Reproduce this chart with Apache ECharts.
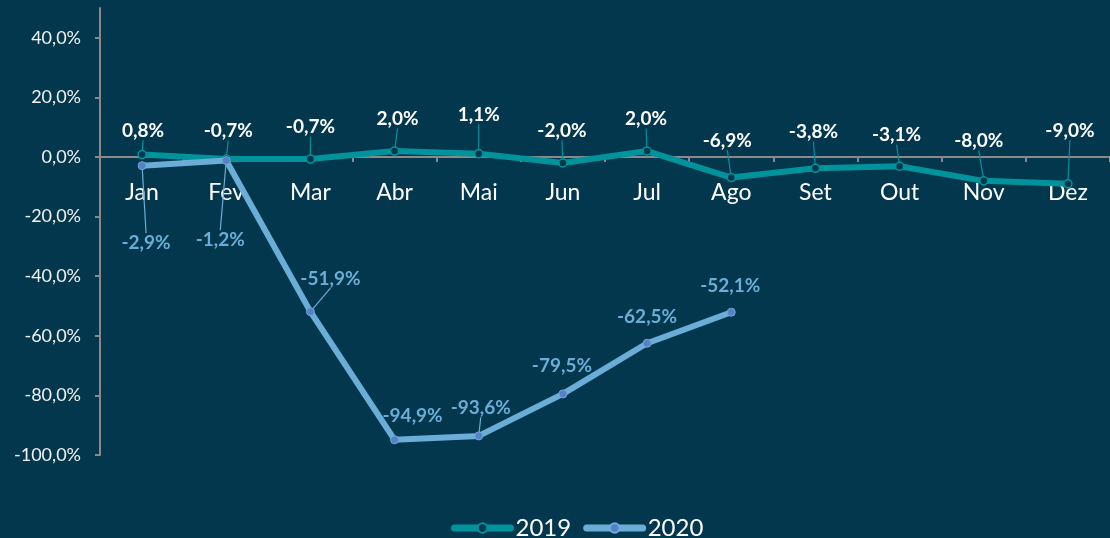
<!DOCTYPE html>
<html>
<head>
<meta charset="utf-8">
<script src="https://cdn.jsdelivr.net/npm/echarts@6/dist/echarts.min.js"></script>
<style>
  html, body { margin: 0; padding: 0; background: #03374e; }
  #chart { width: 1110px; height: 538px; }
</style>
</head>
<body>
<div id="chart"></div>
<script>
var months = ['Jan', 'Fev', 'Mar', 'Abr', 'Mai', 'Jun', 'Jul', 'Ago', 'Set', 'Out', 'Nov', 'Dez'];
var values2019 = [0.8, -0.7, -0.7, 2.0, 1.1, -2.0, 2.0, -6.9, -3.8, -3.1, -8.0, -9.0];
var values2020 = [-2.9, -1.2, -51.9, -94.9, -93.6, -79.5, -62.5, -52.1];
var yTicks = [-100, -80, -60, -40, -20, 0, 20, 40];

// label offsets (px) from each point
var shift2019 = [[1, -24], [2, -28], [0, -32], [3, -32], [0, -39], [-1, -32], [-1, -32], [-4, -37], [-2, -36], [-3, -31], [-5, -40], [2, -53]];
var shift2020 = [[4, 77], [-6, 79], [20, -33], [18, -24], [2, -28], [-1, -28], [0, -26], [-1, -26]];
var guide2020 = [true, true, true, false, true, false, false, false];

function pct(v) {
  return v.toFixed(1).replace('.', ',') + '%';
}

var chart = echarts.init(document.getElementById('chart'));

var data2020 = values2020.map(function (v, i) {
  return { value: v, labelLine: { show: guide2020[i] } };
});

var option = {
  backgroundColor: '#03374e',
  textStyle: { fontFamily: 'Lato' },
  grid: { left: 100, top: 8, width: 1016, height: 447, containLabel: false },
  legend: {
    top: 511,
    left: 446,
    itemWidth: 56,
    itemHeight: 12,
    itemGap: 12,
    lineStyle: { width: 7, cap: 'round' },
    textStyle: { color: '#ffffff', fontSize: 24, fontFamily: 'Lato' },
    data: ['2019', '2020']
  },
  xAxis: {
    type: 'category',
    data: months,
    boundaryGap: true,
    axisLine: { onZero: true, lineStyle: { color: '#8a8a8a', width: 2 } },
    axisTick: { show: true, length: 5, lineStyle: { color: '#8a8a8a', width: 2 } },
    // labels sit under the zero line, as in the source
    axisLabel: { color: '#ffffff', fontSize: 23, margin: -274 },
    splitLine: { show: false }
  },
  yAxis: {
    type: 'value',
    min: -100,
    max: 50,
    interval: 20,
    axisLine: { show: true, lineStyle: { color: '#8a8a8a', width: 2 } },
    axisTick: { show: true, length: 5, customValues: yTicks, lineStyle: { color: '#8a8a8a', width: 2 } },
    axisLabel: {
      color: '#f2f2f2',
      fontSize: 18,
      margin: 19,
      customValues: yTicks,
      formatter: function (v) { return pct(v); }
    },
    splitLine: { show: false }
  },
  series: [
    {
      name: '2019',
      type: 'line',
      data: values2019,
      symbol: 'circle',
      symbolSize: 8,
      lineStyle: { color: '#00939b', width: 6 },
      itemStyle: { color: '#03374e', borderColor: '#00939b', borderWidth: 1.5 },
      label: {
        show: true,
        position: 'inside',
        color: '#ffffff',
        fontSize: 19,
        fontWeight: 'bold',
        formatter: function (p) { return pct(p.value); }
      },
      labelLine: { show: true, lineStyle: { color: '#00939b', width: 1.2 } },
      labelLayout: function (p) {
        var s = shift2019[p.dataIndex];
        return { dx: s[0], dy: s[1] };
      },
      z: 2
    },
    {
      name: '2020',
      type: 'line',
      data: data2020,
      symbol: 'circle',
      symbolSize: 8,
      lineStyle: { color: '#6aadd6', width: 6 },
      itemStyle: { color: '#5b7fc6', borderColor: '#6aadd6', borderWidth: 1 },
      label: {
        show: true,
        position: 'inside',
        color: '#6aadd6',
        fontSize: 19,
        fontWeight: 'bold',
        formatter: function (p) { return pct(p.value); }
      },
      labelLine: { show: true, lineStyle: { color: '#6aadd6', width: 1.2 } },
      labelLayout: function (p) {
        var s = shift2020[p.dataIndex];
        return { dx: s[0], dy: s[1] };
      },
      z: 3
    }
  ]
};

chart.setOption(option);
</script>
</body>
</html>
